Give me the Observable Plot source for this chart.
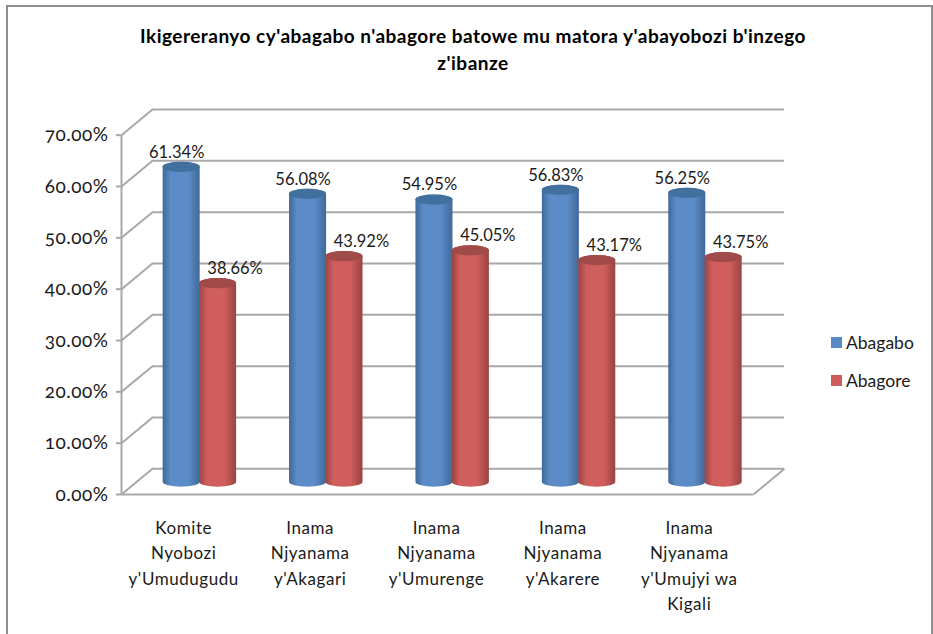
<!DOCTYPE html>
<html><head><meta charset="utf-8">
<script src="https://cdn.jsdelivr.net/npm/d3@7"></script>
<script src="https://cdn.jsdelivr.net/npm/@observablehq/plot@0.6"></script>
<style>
html,body{margin:0;padding:0;background:#fff;}
#page{position:relative;width:933px;height:634px;overflow:hidden;font-family:Lato,sans-serif;color:#1a1a1a;}
#frame{position:absolute;left:6px;top:5px;width:923px;height:640px;border:2px solid #8e8e8e;}
#title{position:absolute;left:120px;width:706px;top:22px;text-align:center;font-weight:700;font-size:19px;letter-spacing:.48px;line-height:27px;color:#000;white-space:pre-line;}
#legend{position:absolute;left:831px;top:324px;font-size:17.5px;}
#legend div{display:flex;align-items:center;height:37.5px;}
#legend i{display:inline-block;width:11px;height:11px;margin-right:4px;}
svg{position:absolute;left:0;top:0;}
[aria-label="x-axis tick label"] text{letter-spacing:.55px;}
[aria-label="y-axis tick label"] text{font-feature-settings:"onum";letter-spacing:.5px;}
</style></head>
<body><div id="page"><div id="frame"></div><div id="chart"></div>
<div id="title"></div><div id="legend"></div></div>
<script>
const titleText = "Ikigereranyo cy'abagabo n'abagore batowe mu matora y'abayobozi b'inzego\nz'ibanze";
const categories = ["Komite\nNyobozi\ny'Umudugudu","Inama\nNjyanama\ny'Akagari","Inama\nNjyanama\ny'Umurenge","Inama\nNjyanama\ny'Akarere","Inama\nNjyanama\ny'Umujyi wa\nKigali"];
const abagabo = [61.34,56.08,54.95,56.83,56.25];
const abagore = [38.66,43.92,45.05,43.17,43.75];
const yTicks = [0,10,20,30,40,50,60,70];
const seriesNames = ["Abagabo","Abagore"];
const seriesColors = ["#5a8ac6","#cd5c5c"];

// 3D look: wall depth in data units
const depthX = 0.245, depthY = 5, midX = depthX/2, midY = 2.4;
const barW = 0.293, capY = 1;
const grid = "#a8a8a8";

document.getElementById("title").textContent = titleText;
document.getElementById("legend").innerHTML = seriesNames.map((n,i)=>`<div><i style="background:${seriesColors[i]}"></i>${n}</div>`).join("");

const idx = categories.map((_,i)=>i);
const blueX = i => i+0.5+midX-barW;
const redX = i => i+0.5+midX-0.005;

function cyl(values, xf, fill, cap){
  return [
    Plot.rect(idx,{x1:xf,x2:i=>xf(i)+barW,y1:midY-capY,y2:i=>values[i]+midY+capY,fill:`url(#${fill})`,rx:18.5,ry:5}),
    Plot.rect(idx,{x1:xf,x2:i=>xf(i)+barW,y1:i=>values[i]+midY-capY,y2:i=>values[i]+midY+capY,fill:cap,rx:18.5,ry:5})
  ];
}
function gradient(id,a,b,c){
  return `<linearGradient id="${id}" x1="0" x2="1" y1="0" y2="0"><stop offset="0" stop-color="${a}"/><stop offset=".22" stop-color="${b}"/><stop offset=".68" stop-color="${b}"/><stop offset="1" stop-color="${c}"/></linearGradient>`;
}
const chart = Plot.plot({
  width:933,height:634,marginLeft:121,marginRight:180,marginBottom:140,marginTop:109,
  x:{type:"linear",domain:[0,5],range:[121,753]},
  y:{domain:[0,75],range:[494,109]},
  style:{fontFamily:"Lato,sans-serif",background:"transparent",color:"#1a1a1a"},
  marks:[
    ()=>d3.create("svg:defs").html(gradient("gb","#41699a","#5c8cc8","#41699a")+gradient("gr","#9a4543","#d05e5c","#984442")).node(),
    Plot.ruleY(yTicks,{y:d=>d+depthY,x1:depthX,x2:5+depthX,stroke:grid,strokeWidth:2}),
    Plot.link(yTicks,{x1:0,y1:d=>d,x2:depthX,y2:d=>d+depthY,stroke:grid,strokeWidth:2}),
    Plot.link([0],{x1:5,y1:0,x2:5+depthX,y2:depthY,stroke:grid,strokeWidth:2}),
    Plot.ruleX([0],{y1:0,y2:70,stroke:grid,strokeWidth:2}),
    Plot.ruleY([0],{x1:0,x2:5,stroke:grid,strokeWidth:2}),
    Plot.axisY({ticks:yTicks,tickFormat:d=>d.toFixed(2)+"%",tickSize:5,tickPadding:8,fontSize:19,stroke:grid,strokeWidth:2,strokeOpacity:1,label:null}),
    Plot.axisX({ticks:idx.map(i=>i+0.5),tickFormat:d=>categories[d-0.5],tickSize:0,tickPadding:21,fontSize:17,lineHeight:1.5,label:null,dx:-1}),
    ...cyl(abagabo,blueX,"gb","#41709f"),
    ...cyl(abagore,redX,"gr","#a04b49"),
    Plot.text(idx,{x:i=>blueX(i)+barW/2,y:i=>abagabo[i]+midY,text:i=>abagabo[i].toFixed(2)+"%",dx:-5,dy:-15,fontSize:16.5,fill:"#1a1a1a"}),
    Plot.text(idx,{x:i=>redX(i)+barW/2,y:i=>abagore[i]+midY,text:i=>abagore[i].toFixed(2)+"%",dx:17,dy:-15,fontSize:16.5,fill:"#1a1a1a"})
  ]
});
document.getElementById("chart").appendChild(chart);
</script></body></html>
